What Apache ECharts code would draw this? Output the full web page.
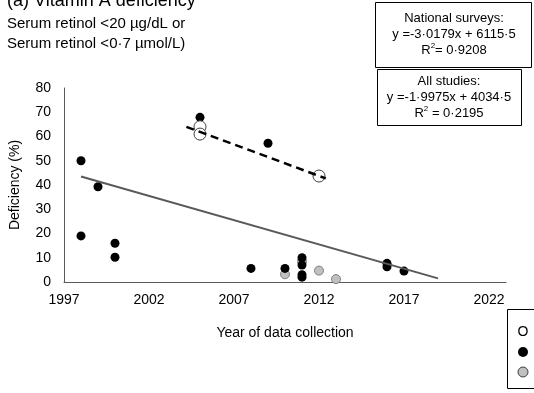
<!DOCTYPE html>
<html>
<head>
<meta charset="utf-8">
<script src="https://cdn.jsdelivr.net/npm/echarts@6/dist/echarts.min.js"></script>
<style>
html,body{margin:0;padding:0;background:#fff;}
#chart{width:534px;height:393px;}
</style>
</head>
<body>
<div id="chart"></div>
<script>
// ---- Data ----
var nationalYears = [2005, 2005, 2012];
var nationalValues = [64.0, 61.0, 43.7];

var studyYears = [1998, 1998, 1999, 2000, 2000, 2005, 2008, 2009, 2010, 2011, 2011, 2011, 2011, 2016, 2016, 2017];
var studyValues = [50, 19, 39.3, 16, 10.2, 67.9, 5.6, 57.2, 5.6, 10, 7, 3, 2, 7.7, 6.3, 4.5];

var grayYears = [2010, 2011, 2012, 2013];
var grayValues = [3.2, 8.5, 4.7, 1.2];

var allTrendYears = [1998, 2019];
var allTrendValues = [43.5, 1.5];
var nationalTrendYears = [2004.2, 2012.4];
var nationalTrendValues = [64.0, 42.7];

var xTicks = [1997, 2002, 2007, 2012, 2017, 2022];
var yTicks = [0, 10, 20, 30, 40, 50, 60, 70, 80];

var titleLines = ['(a) Vitamin A deficiency', 'Serum retinol <20 µg/dL or', 'Serum retinol <0·7 µmol/L)'];
var box1Lines = ['National surveys:', 'y =-3·0179x + 6115·5', 'R{sup|2}= 0·9208'];
var box2Lines = ['All studies:', 'y =-1·9975x + 4034·5', 'R{sup|2} = 0·2195'];

function zip(xs, ys) { return xs.map(function (x, i) { return [x, ys[i]]; }); }

var FONT = 'Liberation Sans, Arial, sans-serif';
var chart = echarts.init(document.getElementById('chart'), null, {renderer: 'canvas'});

var richSup = {sup: {fontSize: 8, verticalAlign: 'top', lineHeight: 10, fontFamily: FONT, padding: [0, 0, 6, 0]}};

chart.setOption({
  animation: false,
  backgroundColor: '#ffffff',
  grid: {left: 64, right: 28, top: 88, bottom: 111},
  xAxis: {
    type: 'value', min: 1997, max: 2023, interval: 5,
    name: 'Year of data collection', nameLocation: 'middle', nameGap: 44,
    nameTextStyle: {fontSize: 14, color: '#000', fontFamily: FONT},
    axisLine: {show: true, lineStyle: {color: '#595959', width: 1}},
    axisTick: {show: false},
    splitLine: {show: false},
    axisLabel: {
      fontSize: 14, color: '#000', fontFamily: FONT, margin: 11,
      formatter: function (v) { return xTicks.indexOf(v) >= 0 ? String(v) : ''; }
    }
  },
  yAxis: {
    type: 'value', min: 0, max: 80, interval: 10,
    name: 'Deficiency (%)', nameLocation: 'middle', nameGap: 42, nameRotate: 90,
    nameTextStyle: {fontSize: 14, color: '#000', fontFamily: FONT},
    axisLine: {show: true, lineStyle: {color: '#595959', width: 1}},
    axisTick: {show: false},
    splitLine: {show: false},
    axisLabel: {fontSize: 14, color: '#000', fontFamily: FONT, margin: 13,
      formatter: function (v) { return yTicks.indexOf(v) >= 0 ? String(v) : ''; }}
  },
  series: [
    {
      name: 'Other studies', type: 'scatter', data: zip(grayYears, grayValues),
      symbol: 'circle', symbolSize: 9, itemStyle: {color: '#c0c0c0', borderColor: '#7f7f7f', borderWidth: 1, opacity: 1}, z: 2
    },
    {
      name: 'Sub-national studies', type: 'scatter', data: zip(studyYears, studyValues),
      symbol: 'circle', symbolSize: 9, itemStyle: {color: '#000000', opacity: 1}, z: 3
    },
    {
      name: 'All studies trend', type: 'line', data: zip(allTrendYears, allTrendValues),
      showSymbol: false, symbol: 'none', lineStyle: {color: '#595959', width: 2}, z: 4, silent: true
    },
    {
      name: 'National surveys', type: 'scatter', data: zip(nationalYears, nationalValues),
      symbol: 'circle', symbolSize: 12, itemStyle: {color: '#ffffff', borderColor: '#404040', borderWidth: 1, opacity: 1}, z: 3
    },
    {
      name: 'National trend', type: 'line', data: zip(nationalTrendYears, nationalTrendValues),
      showSymbol: false, symbol: 'none', lineStyle: {color: '#000000', width: 2.5, type: [8, 5]}, z: 5, silent: true
    }
  ],
  graphic: [
    {type: 'text', left: 7, top: -8, style: {text: titleLines[0], font: '18px ' + FONT, fill: '#000'}},
    {type: 'text', left: 7, top: 14, style: {text: titleLines[1] + '\n' + titleLines[2], font: '15px ' + FONT, fill: '#000', lineHeight: 20}},
    {type: 'rect', shape: {x: 375.5, y: 2.5, width: 156, height: 65}, style: {fill: '#fff', stroke: '#000', lineWidth: 1}, z: 10},
    {type: 'text', x: 454, y: 10, z: 11, style: {
      text: box1Lines.join('\n'), font: '13px ' + FONT, fill: '#000', align: 'center', lineHeight: 16, rich: richSup}},
    {type: 'rect', shape: {x: 377.5, y: 69.5, width: 144, height: 56}, style: {fill: '#fff', stroke: '#000', lineWidth: 1}, z: 10},
    {type: 'text', x: 449, y: 73, z: 11, style: {
      text: box2Lines.join('\n'), font: '13px ' + FONT, fill: '#000', align: 'center', lineHeight: 16, rich: richSup}},
    {type: 'rect', shape: {x: 507.5, y: 309.5, width: 40, height: 79}, style: {fill: '#fff', stroke: '#000', lineWidth: 1}, z: 10},
    {type: 'text', x: 523, y: 332, z: 11, style: {text: 'O', font: '14px ' + FONT, fill: '#000', align: 'center', verticalAlign: 'middle'}},
    {type: 'circle', shape: {cx: 523, cy: 352, r: 5}, style: {fill: '#000'}, z: 11},
    {type: 'circle', shape: {cx: 523, cy: 372, r: 5}, style: {fill: '#c0c0c0', stroke: '#404040', lineWidth: 1}, z: 11}
  ]
});
</script>
</body>
</html>
